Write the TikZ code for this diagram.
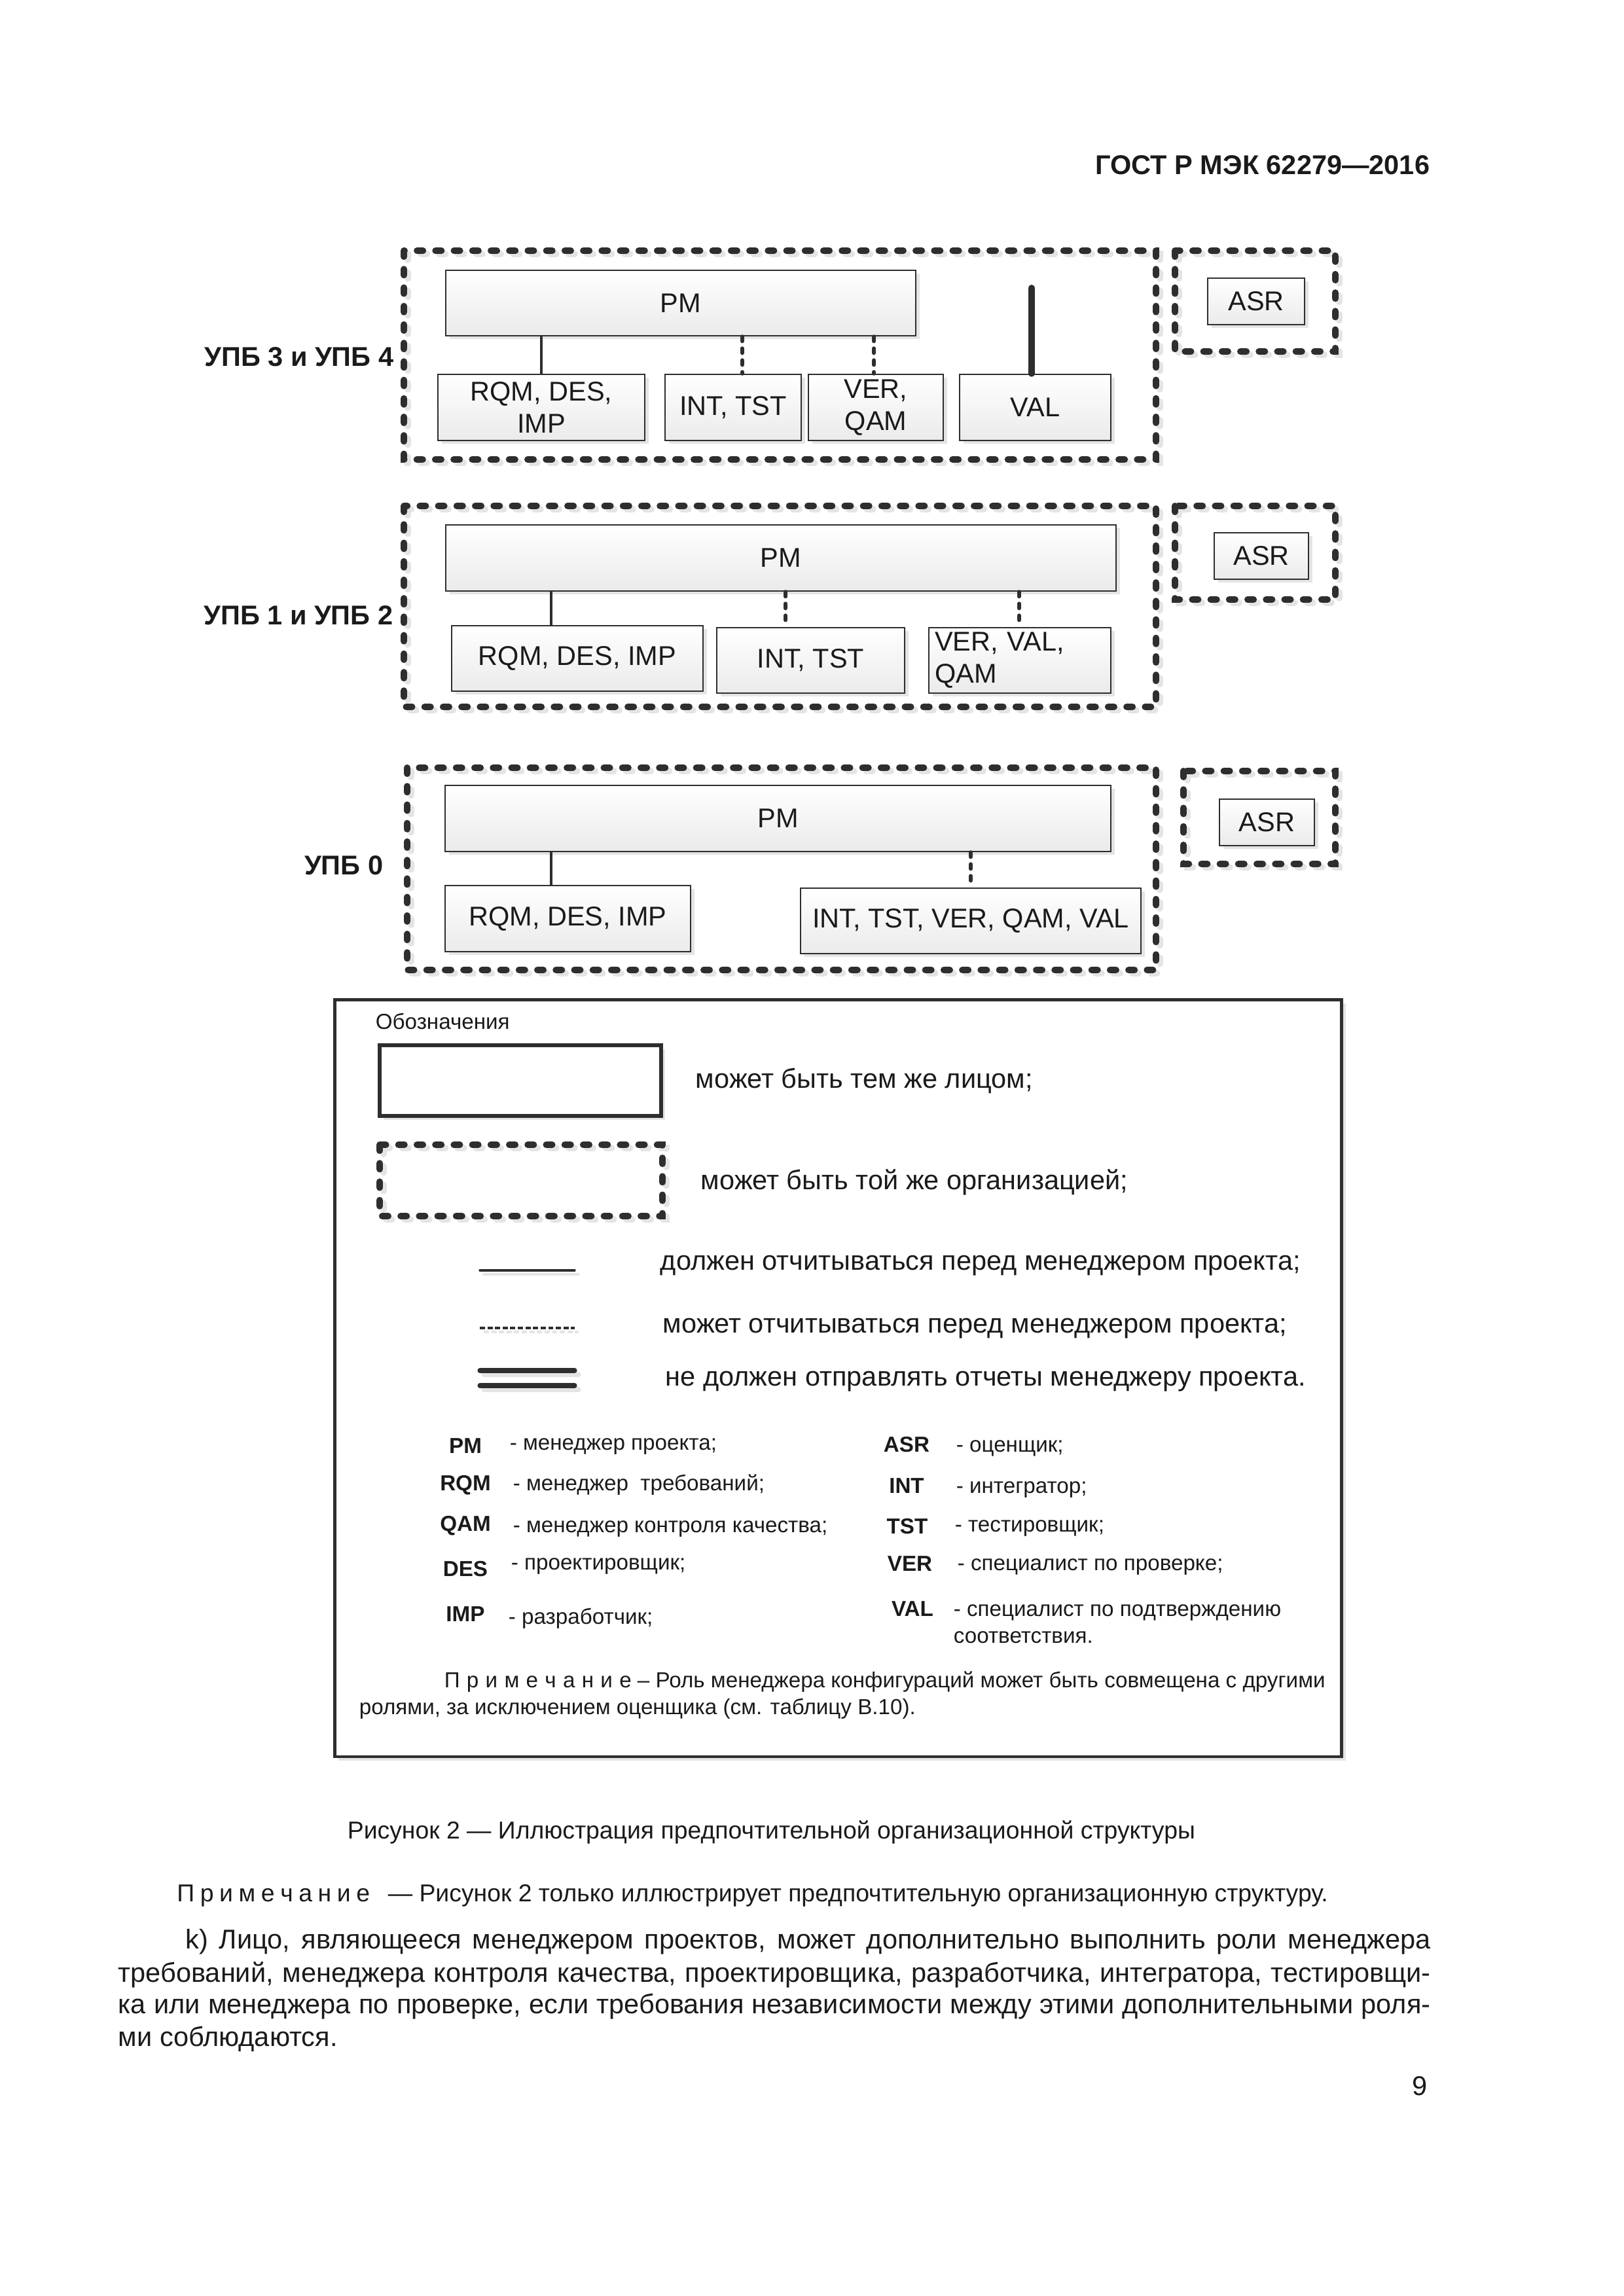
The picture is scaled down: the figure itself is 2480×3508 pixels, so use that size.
\documentclass[tikz,border=0pt]{standalone}
\usepackage{fontspec}
\setmainfont{Liberation Sans}
\usetikzlibrary{shadows}
\definecolor{lc}{HTML}{2E2E2E}
\definecolor{sh}{HTML}{E4E4E4}
\definecolor{tx}{HTML}{1A1A1A}
\newcommand{\fsz}[2]{\fontsize{#1}{#2}\selectfont}
\newcommand{\lsp}{\hspace{0.31em}}
\newcommand{\lspb}{\hspace{0.23em}}
\newcommand{\orgrect}[4]{%
  \draw[org, draw=sh] ([shift={(6,5)}]#1,#2) rectangle ([shift={(6,5)}]#3,#4);%
  \draw[org] (#1,#2) rectangle (#3,#4);}
% box node from pixel corners: \bx[opts]{name}{x1}{y1}{x2}{y2}{text};
\newcommand{\bx}[6][]{\node[box,#1,minimum width={(#5-#3)*0.24093pt},minimum height={(#6-#4)*0.24093pt}] (#2) at ({(#3+#5)/2},{(#4+#6)/2})}
\tikzset{
  box/.style={draw=lc, line width=0.6pt, top color=white, bottom color=black!8,
    inner sep=0pt, align=center, text=tx, font=\fsz{10}{11.8},
    drop shadow={shadow xshift=1.5pt, shadow yshift=-1.3pt, fill=sh, opacity=1}},
  plainbox/.style={draw=lc, fill=white, inner sep=0pt,
    drop shadow={shadow xshift=1.4pt, shadow yshift=-1.4pt, fill=sh, opacity=1}},
  org/.style={draw=lc, line width=2.4pt, line cap=round, dash pattern=on 2.2pt off 4.6pt},
  solidc/.style={draw=lc, line width=1.1pt},
  dashc/.style={draw=lc, line width=1.45pt, line cap=round, dash pattern=on 1.7pt off 2.65pt},
  thickc/.style={draw=lc, line width=2.4pt, line cap=round},
  lbl/.style={font=\bfseries\fsz{10}{12}, text=tx, inner sep=0pt, anchor=east},
  txt/.style={inner sep=0pt, text=tx, anchor=west},
  ab/.style={inner sep=0pt, text=tx, font=\bfseries\fsz{8}{9.6}},
  ds/.style={txt, font=\fsz{8}{9.6}},
  lg/.style={txt, font=\fsz{10}{12}},
}
\begin{document}
\begin{tikzpicture}[x=0.0084677cm, y=-0.0084677cm]
\useasboundingbox[fill=white] (0,0) rectangle (2480,3508);

% header
\node[anchor=base east, inner sep=0pt, text=tx, font=\bfseries\fsz{10}{12}] (hdr) at (2185,266) {ГОСТ Р МЭК 62279—2016};

% ---------- UPB 3 / 4 ----------
\orgrect{617}{383}{1766}{702}
\orgrect{1795}{383}{2040}{537}
\bx{pm34}{681}{413}{1399}{513}{PM};
\bx{asr34}{1845}{425}{1993}{496}{ASR};
\bx{rqm34}{669}{572}{985}{673}{RQM, DES,\\IMP};
\bx{int34}{1016}{572}{1224}{673}{INT, TST};
\bx{ver34}{1235}{572}{1441}{673}{VER,\\QAM};
\bx{val34}{1466}{572}{1697}{673}{VAL};
\coordinate (x34a) at (827,0);
\coordinate (x34b) at (1134,0);
\coordinate (x34c) at (1335,0);
\coordinate (valtop) at (1576,440);
\draw[solidc] (pm34.south -| x34a) -- (rqm34.north -| x34a);
\draw[dashc] (pm34.south -| x34b) -- (int34.north -| x34b);
\draw[dashc] (pm34.south -| x34c) -- (ver34.north -| x34c);
\draw[thickc] (valtop) -- (val34.north -| valtop);
\node[lbl] (l34) at (602,545) {УПБ 3 и УПБ 4};

% ---------- UPB 1 / 2 ----------
\orgrect{617}{773}{1766}{1080}
\orgrect{1795}{773}{2040}{916}
\bx{pm12}{681}{802}{1705}{903}{PM};
\bx{asr12}{1855}{814}{1999}{885}{ASR};
\bx{rqm12}{690}{956}{1074}{1056}{RQM, DES, IMP};
\bx{int12}{1095}{959}{1382}{1059}{INT, TST};
\bx[text width=62.6pt, align=left]{ver12}{1419}{959}{1697}{1059}{VER, VAL,\\QAM};
\coordinate (x12a) at (842,0);
\coordinate (x12b) at (1200,0);
\coordinate (x12c) at (1557,0);
\draw[solidc] (pm12.south -| x12a) -- (rqm12.north -| x12a);
\draw[dashc] (pm12.south -| x12b) -- ([yshift=2pt]int12.north -| x12b);
\draw[dashc] (pm12.south -| x12c) -- ([yshift=2pt]ver12.north -| x12c);
\node[lbl] (l12) at (601,940) {УПБ 1 и УПБ 2};

% ---------- UPB 0 ----------
\orgrect{622}{1173}{1766}{1482}
\orgrect{1808}{1178}{2040}{1320}
\bx{pm0}{680}{1200}{1697}{1301}{PM};
\bx{asr0}{1863}{1221}{2008}{1292}{ASR};
\bx{rqm0}{680}{1353}{1055}{1454}{RQM, DES, IMP};
\bx{rest0}{1223}{1357}{1743}{1457}{INT, TST, VER, QAM, VAL};
\coordinate (x0a) at (842,0);
\coordinate (x0b) at (1483,0);
\draw[solidc] (pm0.south -| x0a) -- (rqm0.north -| x0a);
\draw[dashc] (pm0.south -| x0b) -- ([yshift=2pt]rest0.north -| x0b);
\node[lbl] (l0) at (586,1322) {УПБ 0};

% ---------- Legend ----------
\node[plainbox, line width=1.2pt, minimum width={(2050-511)*0.24093pt}, minimum height={(2684-1527)*0.24093pt}] (leg) at ({(511+2050)/2},{(1527+2684)/2}) {};
\node[txt, font=\fsz{8}{9.6}] (obz) at (573,1560) {Обозначения};
\node[plainbox, line width=1.4pt, minimum width={(1010-580)*0.24093pt}, minimum height={(1705-1597)*0.24093pt}] (ssolid) at ({(580+1010)/2},{(1597+1705)/2}) {};
\node[lg] (t1) at (1062,1651) {может быть тем же лицом;};
\orgrect{580}{1749}{1012}{1858}
\node[lg] (t2) at (1070,1806) {может быть той же организацией;};

\coordinate (a1) at (733,1941); \coordinate (b1) at (878,1941);
\draw[draw=sh, line width=0.8pt, line cap=round] ([shift={(6,6)}]a1) -- ([shift={(6,6)}]b1);
\draw[draw=lc, line width=0.8pt, line cap=round] (a1) -- (b1);
\node[lg] (t3) at (1008,1934) {должен отчитываться перед менеджером проекта;};

\coordinate (a2) at (733,2029); \coordinate (b2) at (878,2029);
\draw[draw=sh, line width=1pt, dash pattern=on 1.9pt off 0.9pt] ([shift={(6,6)}]a2) -- ([shift={(6,6)}]b2);
\draw[draw=lc, line width=1pt, dash pattern=on 1.9pt off 0.9pt] (a2) -- (b2);
\node[lg] (t4) at (1012,2030) {может отчитываться перед менеджером проекта;};

\coordinate (a3) at (733,2094); \coordinate (b3) at (878,2094);
\coordinate (a4) at (733,2117); \coordinate (b4) at (878,2117);
\draw[draw=sh, line width=1.7pt, line cap=round] ([shift={(6,6)}]a3) -- ([shift={(6,6)}]b3);
\draw[draw=sh, line width=1.7pt, line cap=round] ([shift={(6,6)}]a4) -- ([shift={(6,6)}]b4);
\draw[draw=lc, line width=1.7pt, line cap=round] (a3) -- (b3);
\draw[draw=lc, line width=1.7pt, line cap=round] (a4) -- (b4);
\node[lg] (t5) at (1016,2111) {не должен отправлять отчеты менеджеру проекта.};

% abbreviations, left column
\node[ab] (apm)  at (711,2209) {PM};
\node[ds] (dpm)  at (778,2210) {- менеджер проекта;};
\node[ab] (arqm) at (711,2269) {RQM};
\node[ds] (drqm) at (783,2269) {- менеджер\ \ требований;};
\node[ab] (aqam) at (711,2331) {QAM};
\node[ds] (dqam) at (783,2336) {- менеджер контроля качества;};
\node[ab] (ades) at (711,2397) {DES};
\node[ds] (ddes) at (780,2393) {- проектировщик;};
\node[ab] (aimp) at (711,2466) {IMP};
\node[ds] (dimp) at (776,2473) {- разработчик;};
% right column
\node[ab] (aasr) at (1385,2207) {ASR};
\node[ds] (dasr) at (1460,2213) {- оценщик;};
\node[ab] (aint) at (1385,2270) {INT};
\node[ds] (dint) at (1460,2276) {- интегратор;};
\node[ab] (atst) at (1386,2332) {TST};
\node[ds] (dtst) at (1458,2335) {- тестировщик;};
\node[ab] (aver) at (1390,2389) {VER};
\node[ds] (dver) at (1462,2394) {- специалист по проверке;};
\node[ab] (aval) at (1394,2458) {VAL};
\node[ds] (dval) at (1456,2464) {- специалист по подтверждению};
\node[ds] (dval2) at (1456,2502) {соответствия.};

\node[txt, font=\fsz{8}{9.6}] (n1) at (678,2570) {П\lsp р\lsp и\lsp м\lsp е\lsp ч\lsp а\lsp н\lsp и\lsp е – Роль менеджера конфигураций может быть совмещена с другими};
\node[txt, font=\fsz{8}{9.6}] (n2) at (548,2611) {ролями, за исключением оценщика (см. таблицу В.10).};

% ---------- caption and text ----------
\node[txt, font=\fsz{9}{11}] (cap) at (530,2799) {Рисунок 2 — Иллюстрация предпочтительной организационной структуры};
\node[anchor=east, inner sep=0pt, text=tx, font=\fsz{9}{11}] (pnw) at (566,2896) {П\lspb р\lspb и\lspb м\lspb е\lspb ч\lspb а\lspb н\lspb и\lspb е};
\node[txt, font=\fsz{9}{11}] (pnote) at (592,2896) {— Рисунок 2 только иллюстрирует предпочтительную организационную структуру.};
\node[txt, font=\fsz{10}{12}] (body1) at (283,2967) {\makebox[458.2pt][s]{k) Лицо, являющееся менеджером проектов, может дополнительно выполнить роли менеджера}};
\node[txt, font=\fsz{10}{12}] (body2) at (180,3017) {\makebox[483pt][s]{требований, менеджера контроля качества, проектировщика, разработчика, интегратора, тестировщи-}};
\node[txt, font=\fsz{10}{12}] (body3) at (180,3066) {\makebox[483pt][s]{ка или менеджера по проверке, если требования независимости между этими дополнительными роля-}};
\node[txt, font=\fsz{10}{12}] (body4) at (180,3115) {ми соблюдаются.};
\node[anchor=east, inner sep=0pt, text=tx, font=\fsz{10}{12}] (pg) at (2181,3187) {9};
\end{tikzpicture}
\end{document}
